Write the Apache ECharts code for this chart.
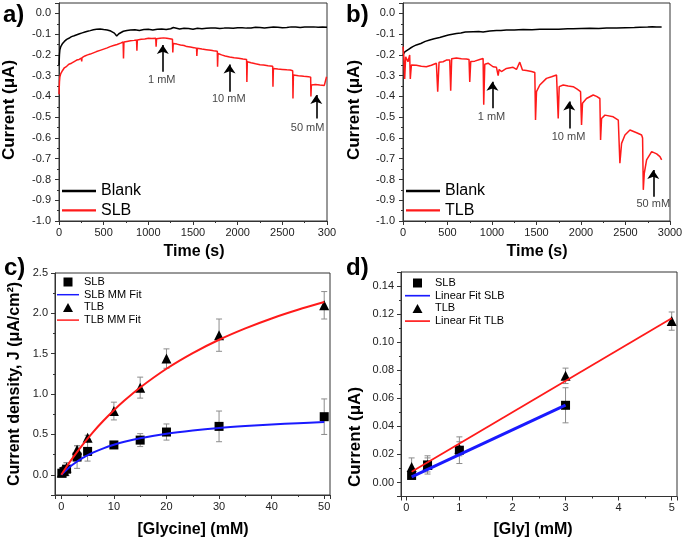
<!DOCTYPE html>
<html><head><meta charset="utf-8">
<script src="https://cdn.jsdelivr.net/npm/echarts@6/dist/echarts.min.js"></script>
<style>html,body{margin:0;padding:0;background:#fff}#c{width:685px;height:542px}</style>
</head><body><div id="c"></div>
<script>
// ---------- Panel a: Blank vs SLB (time, current) ----------
const blankA = [[0,-0.25],[5,-0.2],[10,-0.175],[20,-0.16],[40,-0.145],[60,-0.135],[86,-0.125],[110,-0.12],[125,-0.116],[140,-0.112],[170,-0.108],[200,-0.103],[230,-0.098],[260,-0.094],[290,-0.09],[320,-0.086],[350,-0.083],[385,-0.079],[420,-0.077],[460,-0.075],[500,-0.078],[540,-0.08],[580,-0.085],[620,-0.095],[646,-0.109],[670,-0.098],[720,-0.086],[760,-0.082],[800,-0.08],[850,-0.079],[900,-0.082],[950,-0.078],[1000,-0.077],[1050,-0.08],[1100,-0.076],[1150,-0.075],[1200,-0.078],[1250,-0.074],[1280,-0.068],[1300,-0.074],[1350,-0.075],[1400,-0.072],[1450,-0.073],[1500,-0.076],[1550,-0.072],[1600,-0.074],[1650,-0.072],[1700,-0.071],[1750,-0.07],[1800,-0.073],[1850,-0.071],[1900,-0.07],[1950,-0.072],[2000,-0.069],[2050,-0.069],[2100,-0.071],[2150,-0.07],[2200,-0.067],[2250,-0.068],[2300,-0.07],[2350,-0.068],[2400,-0.066],[2450,-0.067],[2500,-0.069],[2550,-0.068],[2600,-0.065],[2650,-0.066],[2700,-0.068],[2750,-0.066],[2800,-0.065],[2850,-0.065],[2900,-0.067],[2950,-0.066],[3000,-0.067]];
const slbA = [[0,-0.39],[5,-0.33],[10,-0.305],[20,-0.29],[40,-0.275],[60,-0.262],[86,-0.255],[110,-0.245],[140,-0.24],[170,-0.232],[198,-0.225],[225,-0.222],[250,-0.215],[254,-0.232],[258,-0.213],[290,-0.205],[320,-0.2],[350,-0.196],[385,-0.19],[420,-0.184],[460,-0.178],[500,-0.172],[540,-0.166],[572,-0.16],[610,-0.155],[650,-0.15],[690,-0.143],[718,-0.138],[722,-0.217],[727,-0.138],[760,-0.135],[800,-0.132],[840,-0.13],[868,-0.128],[872,-0.18],[877,-0.128],[920,-0.125],[960,-0.123],[1000,-0.12],[1040,-0.121],[1083,-0.12],[1087,-0.16],[1092,-0.122],[1130,-0.12],[1170,-0.118],[1207,-0.12],[1240,-0.122],[1270,-0.125],[1274,-0.188],[1279,-0.145],[1320,-0.148],[1360,-0.152],[1400,-0.155],[1431,-0.16],[1470,-0.162],[1510,-0.165],[1540,-0.168],[1543,-0.205],[1548,-0.168],[1600,-0.172],[1650,-0.175],[1700,-0.178],[1730,-0.18],[1772,-0.182],[1775,-0.257],[1780,-0.193],[1820,-0.2],[1860,-0.205],[1910,-0.21],[1960,-0.214],[2010,-0.216],[2060,-0.22],[2100,-0.222],[2103,-0.33],[2108,-0.233],[2150,-0.238],[2200,-0.243],[2250,-0.247],[2290,-0.249],[2340,-0.252],[2392,-0.255],[2395,-0.353],[2400,-0.265],[2450,-0.268],[2500,-0.27],[2550,-0.272],[2589,-0.273],[2616,-0.276],[2619,-0.41],[2624,-0.297],[2680,-0.3],[2740,-0.303],[2794,-0.305],[2817,-0.307],[2820,-0.40],[2825,-0.345],[2870,-0.342],[2920,-0.345],[2970,-0.347],[2990,-0.345],[2995,-0.305]];
const arrowAx = [1162, 1909, 2880];
const arrowAtail = [-0.281, -0.378, -0.506];
const arrowAtip = [-0.152, -0.246, -0.393];
const arrowText = ['1 mM', '10 mM', '50 mM'];
const labelAx = [1150, 1900, 2783];
const labelAy = [-0.32, -0.41, -0.55];

// ---------- Panel b: Blank vs TLB ----------
const blankB = [[0,-0.2],[20,-0.185],[37,-0.177],[80,-0.168],[110,-0.16],[150,-0.152],[200,-0.145],[250,-0.135],[300,-0.128],[350,-0.122],[412,-0.116],[460,-0.11],[510,-0.104],[600,-0.097],[650,-0.095],[700,-0.09],[787,-0.088],[850,-0.087],[900,-0.09],[975,-0.085],[1050,-0.083],[1100,-0.082],[1162,-0.08],[1250,-0.08],[1350,-0.078],[1450,-0.079],[1537,-0.077],[1650,-0.076],[1750,-0.077],[1850,-0.074],[1912,-0.074],[2000,-0.073],[2100,-0.072],[2200,-0.073],[2287,-0.071],[2400,-0.07],[2500,-0.069],[2600,-0.068],[2662,-0.067],[2750,-0.066],[2800,-0.064],[2850,-0.066],[2906,-0.065]];
const tlbB = [[0,-0.16],[8,-0.2],[19,-0.316],[30,-0.209],[56,-0.233],[75,-0.2],[82,-0.316],[94,-0.249],[150,-0.25],[206,-0.255],[262,-0.257],[319,-0.25],[375,-0.24],[390,-0.377],[405,-0.235],[450,-0.233],[487,-0.225],[525,-0.225],[536,-0.372],[547,-0.218],[600,-0.215],[656,-0.218],[712,-0.22],[742,-0.222],[750,-0.33],[761,-0.232],[806,-0.23],[862,-0.222],[900,-0.217],[907,-0.44],[919,-0.245],[956,-0.24],[1012,-0.257],[1050,-0.26],[1069,-0.3],[1080,-0.27],[1106,-0.28],[1162,-0.265],[1237,-0.26],[1275,-0.27],[1312,-0.235],[1342,-0.273],[1387,-0.275],[1444,-0.28],[1481,-0.285],[1489,-0.514],[1500,-0.377],[1537,-0.345],[1612,-0.313],[1669,-0.305],[1725,-0.297],[1736,-0.3],[1744,-0.506],[1755,-0.353],[1800,-0.345],[1856,-0.35],[1912,-0.353],[1957,-0.365],[1995,-0.377],[2006,-0.538],[2017,-0.433],[2062,-0.41],[2137,-0.393],[2175,-0.4],[2212,-0.41],[2220,-0.61],[2231,-0.506],[2269,-0.49],[2362,-0.498],[2419,-0.514],[2437,-0.722],[2456,-0.626],[2494,-0.586],[2550,-0.562],[2625,-0.575],[2681,-0.586],[2692,-0.6],[2700,-0.85],[2711,-0.77],[2737,-0.706],[2794,-0.666],[2850,-0.677],[2887,-0.69],[2906,-0.706]];
const arrowBx = [1005, 1868, 2812];
const arrowBtail = [-0.457, -0.554, -0.883];
const arrowBtip = [-0.329, -0.425, -0.754];
const labelBx = [994, 1860, 2812];
const labelBy = [-0.498, -0.594, -0.918];

// ---------- Panel c: current density vs glycine ----------
const cX = [0.1, 0.5, 1, 3, 5, 10, 15, 20, 30, 50];
const cSLB = [0.02, 0.04, 0.07, 0.22, 0.29, 0.37, 0.43, 0.53, 0.60, 0.72];
const cSLBerr = [0.03, 0.05, 0.08, 0.14, 0.12, 0.02, 0.08, 0.10, 0.19, 0.22];
const cTLB = [0.03, 0.05, 0.09, 0.31, 0.46, 0.79, 1.08, 1.44, 1.73, 2.10];
const cTLBerr = [0.03, 0.05, 0.06, 0.05, 0.03, 0.11, 0.13, 0.12, 0.20, 0.17];
const fitX = [0, 1, 2, 4, 6, 8, 10, 12, 15, 20, 25, 30, 35, 40, 45, 50];
const slbFit = [0, 0.064, 0.118, 0.206, 0.274, 0.328, 0.372, 0.409, 0.453, 0.509, 0.549, 0.580, 0.604, 0.624, 0.640, 0.653];
const tlbFit = [0, 0.10, 0.194, 0.368, 0.526, 0.669, 0.80, 0.92, 1.082, 1.314, 1.508, 1.673, 1.814, 1.937, 2.044, 2.140];

// ---------- Panel d: current vs Gly ----------
const dSLBx = [0.1, 0.4, 1, 3];
const dSLB = [0.005, 0.0125, 0.023, 0.055];
const dSLBerr = [0.0015, 0.0065, 0.0095, 0.0125];
const dTLBx = [0.1, 0.4, 1, 3, 5];
const dTLB = [0.011, 0.0125, 0.024, 0.076, 0.115];
const dTLBerr = [0.0065, 0.005, 0.005, 0.0055, 0.0065];
const slbLinX = [0.1, 3];
const slbLinY = [0.004, 0.0551];
const tlbLinX = [0.1, 5];
const tlbLinY = [0.0076, 0.117];

// ---------- build ----------
const FONT = '"Liberation Sans", Arial, sans-serif';
const AX = '#333';
const RED = '#ff1a1a', BLUE = '#1a1aff';
const LINE_ICON = 'path://M0,0h60v4h-60z';
const SQ_ICON = 'path://M0,0h10v10h-10z';
const TRI_ICON = 'path://M5,0L10,9L0,9z';
const zip = (xs, ys) => xs.map((x, i) => [x, ys[i]]);
const errData = (xs, ys, es) => xs.map((x, i) => [x, ys[i] - es[i], ys[i] + es[i]]);

function lbl(extra) {
  return Object.assign({ fontSize: 11, color: '#222', fontFamily: FONT }, extra);
}
function axisBase(extra) {
  return Object.assign({
    type: 'value', scale: false,
    axisLine: { show: true, onZero: false, lineStyle: { color: AX, width: 1 } },
    axisTick: { show: true, inside: false, length: 4, lineStyle: { color: AX } },
    minorTick: { show: true, splitNumber: 2, length: 2, lineStyle: { color: AX } },
    splitLine: { show: false },
    axisLabel: lbl({})
  }, extra);
}
function rightAxis(gi, min, max, iv) {
  return {
    type: 'value', gridIndex: gi, position: 'right', min: min, max: max, interval: iv,
    axisLine: { show: false }, axisLabel: { show: false }, splitLine: { show: false },
    axisTick: { show: true, inside: true, length: 4, lineStyle: { color: AX } }
  };
}

function errRender(params, api) {
  const x = api.value(0), lo = api.value(1), hi = api.value(2);
  const p1 = api.coord([x, hi]), p2 = api.coord([x, lo]);
  const w = 3, st = { stroke: '#8c8c8c', lineWidth: 1 };
  return { type: 'group', children: [
    { type: 'line', shape: { x1: p1[0], y1: p1[1], x2: p2[0], y2: p2[1] }, style: st },
    { type: 'line', shape: { x1: p1[0] - w, y1: p1[1], x2: p1[0] + w, y2: p1[1] }, style: st },
    { type: 'line', shape: { x1: p2[0] - w, y1: p2[1], x2: p2[0] + w, y2: p2[1] }, style: st }
  ]};
}

function arrows(xs, tails, tips) {
  return {
    silent: true, animation: false, symbol: ['none', 'arrow'], symbolSize: 9,
    label: { show: false },
    lineStyle: { color: '#000', width: 1.6, type: 'solid' },
    emphasis: { disabled: true },
    data: xs.map((x, i) => [{ coord: [x, tails[i]] }, { coord: [x, tips[i]] }])
  };
}
function labelSeries(xi, yi, xs, ys) {
  return {
    type: 'scatter', xAxisIndex: xi, yAxisIndex: yi, symbolSize: 1, silent: true,
    itemStyle: { color: 'rgba(0,0,0,0)' },
    label: { show: true, position: 'inside', fontSize: 11, color: '#111', fontFamily: FONT,
      formatter: p => p.data[2] },
    data: xs.map((x, i) => [x, ys[i], arrowText[i]])
  };
}

const legendFmt = n => n.replace(/^[a-d]_/, '');
function legend(left, top, items, fs, lh, iw, ih, gap) {
  return {
    orient: 'vertical', left: left, top: top, padding: 0, itemGap: gap,
    itemWidth: iw, itemHeight: ih, formatter: legendFmt, selectedMode: false,
    symbolKeepAspect: true,
    itemStyle: { opacity: 1 },
    textStyle: { fontSize: fs, lineHeight: lh, color: '#000', fontFamily: FONT },
    data: items.map(it => ({ name: it[0], icon: it[1] }))
  };
}

const grids = [
  { left: 59, top: 3, width: 268, height: 218 },
  { left: 403, top: 3, width: 267, height: 218 },
  { left: 55, top: 273, width: 275, height: 222 },
  { left: 401, top: 272, width: 276, height: 224.5 }
].map(g => Object.assign(g, { show: true, borderColor: AX, borderWidth: 1, backgroundColor: 'transparent', containLabel: false, outerBoundsMode: 'none' }));

const option = {
  animation: false,
  backgroundColor: '#fff',
  textStyle: { fontFamily: FONT },
  grid: grids,
  xAxis: [
    axisBase({ gridIndex: 0, min: 0, max: 3000, interval: 500,
      axisLabel: lbl({ margin: 6, formatter: v => v === 3000 ? '300' : String(v) }) }),
    axisBase({ gridIndex: 1, min: 0, max: 3000, interval: 500,
      axisLabel: lbl({ margin: 6, formatter: v => String(v) }) }),
    axisBase({ gridIndex: 2, min: -1.2, max: 51.1, minInterval: 10, maxInterval: 10,
      axisLabel: lbl({ margin: 6, showMinLabel: false, showMaxLabel: false, formatter: v => String(v) }) }),
    axisBase({ gridIndex: 3, min: -0.1, max: 5.1, minInterval: 1, maxInterval: 1,
      axisLabel: lbl({ margin: 6, showMinLabel: false, showMaxLabel: false, formatter: v => String(v) }) })
  ],
  yAxis: [
    axisBase({ gridIndex: 0, min: -1.0, max: 0.05, interval: 0.1,
      axisLabel: lbl({ margin: 8, showMaxLabel: false, formatter: v => v.toFixed(1) }) }),
    axisBase({ gridIndex: 1, min: -1.0, max: 0.05, interval: 0.1,
      axisLabel: lbl({ margin: 8, showMaxLabel: false, formatter: v => v.toFixed(1) }) }),
    axisBase({ gridIndex: 2, min: -0.25, max: 2.5, minInterval: 0.5, maxInterval: 0.5,
      axisLabel: lbl({ margin: 7, showMinLabel: false, formatter: v => v.toFixed(1) }) }),
    axisBase({ gridIndex: 3, min: -0.01, max: 0.15, minInterval: 0.02, maxInterval: 0.02,
      axisLabel: lbl({ margin: 7, showMinLabel: false, showMaxLabel: false, formatter: v => v.toFixed(2) }) }),
    rightAxis(0, -1.0, 0.05, 0.1),
    rightAxis(1, -1.0, 0.05, 0.1)
  ],
  legend: [
    legend(62, 183, [['a_Blank', LINE_ICON], ['a_SLB', LINE_ICON]], 16, 16, 34, 12, 3.3),
    legend(406, 183, [['b_Blank', LINE_ICON], ['b_TLB', LINE_ICON]], 16, 16, 34, 12, 3.3),
    legend(57, 276, [['c_SLB', SQ_ICON], ['c_SLB MM Fit', LINE_ICON], ['c_TLB', TRI_ICON], ['c_TLB MM Fit', LINE_ICON]], 11, 12, 22, 9, 0.7),
    legend(405, 277, [['d_SLB', SQ_ICON], ['d_Linear Fit SLB', LINE_ICON], ['d_TLB', TRI_ICON], ['d_Linear Fit TLB', LINE_ICON]], 11, 12, 25, 9, 0.7)
  ],
  series: [
    { name: 'a_Blank', type: 'line', xAxisIndex: 0, yAxisIndex: 0, data: blankA, symbol: 'none', lineStyle: { color: '#000', width: 1.5 }, itemStyle: { color: '#000' } },
    { name: 'a_SLB', type: 'line', xAxisIndex: 0, yAxisIndex: 0, data: slbA, symbol: 'none', lineStyle: { color: RED, width: 1.5 }, itemStyle: { color: RED },
      markLine: arrows(arrowAx, arrowAtail, arrowAtip) },
    labelSeries(0, 0, labelAx, labelAy),
    { name: 'b_Blank', type: 'line', xAxisIndex: 1, yAxisIndex: 1, data: blankB, symbol: 'none', lineStyle: { color: '#000', width: 1.5 }, itemStyle: { color: '#000' } },
    { name: 'b_TLB', type: 'line', xAxisIndex: 1, yAxisIndex: 1, data: tlbB, symbol: 'none', lineStyle: { color: RED, width: 1.5 }, itemStyle: { color: RED },
      markLine: arrows(arrowBx, arrowBtail, arrowBtip) },
    labelSeries(1, 1, labelBx, labelBy),

    { type: 'custom', xAxisIndex: 2, yAxisIndex: 2, renderItem: errRender, encode: { x: 0, y: [1, 2] }, data: errData(cX, cSLB, cSLBerr), silent: true },
    { type: 'custom', xAxisIndex: 2, yAxisIndex: 2, renderItem: errRender, encode: { x: 0, y: [1, 2] }, data: errData(cX, cTLB, cTLBerr), silent: true },
    { name: 'c_SLB', type: 'scatter', xAxisIndex: 2, yAxisIndex: 2, data: zip(cX, cSLB), symbol: 'rect', symbolSize: 9, itemStyle: { color: '#000', opacity: 1 } },
    { name: 'c_SLB MM Fit', type: 'line', xAxisIndex: 2, yAxisIndex: 2, data: zip(fitX, slbFit), symbol: 'none', smooth: 0.3, lineStyle: { color: BLUE, width: 2 }, itemStyle: { color: BLUE } },
    { name: 'c_TLB', type: 'scatter', xAxisIndex: 2, yAxisIndex: 2, data: zip(cX, cTLB), symbol: 'triangle', symbolSize: 10, itemStyle: { color: '#000', opacity: 1 } },
    { name: 'c_TLB MM Fit', type: 'line', xAxisIndex: 2, yAxisIndex: 2, data: zip(fitX, tlbFit), symbol: 'none', smooth: 0.3, lineStyle: { color: RED, width: 2 }, itemStyle: { color: RED } },

    { type: 'custom', xAxisIndex: 3, yAxisIndex: 3, renderItem: errRender, encode: { x: 0, y: [1, 2] }, data: errData(dSLBx, dSLB, dSLBerr), silent: true },
    { type: 'custom', xAxisIndex: 3, yAxisIndex: 3, renderItem: errRender, encode: { x: 0, y: [1, 2] }, data: errData(dTLBx, dTLB, dTLBerr), silent: true },
    { name: 'd_TLB', type: 'scatter', xAxisIndex: 3, yAxisIndex: 3, data: zip(dTLBx, dTLB), symbol: 'triangle', symbolSize: 10, itemStyle: { color: '#000', opacity: 1 } },
    { name: 'd_SLB', type: 'scatter', xAxisIndex: 3, yAxisIndex: 3, data: zip(dSLBx, dSLB), symbol: 'rect', symbolSize: 9, itemStyle: { color: '#000', opacity: 1 } },
    { name: 'd_Linear Fit SLB', type: 'line', xAxisIndex: 3, yAxisIndex: 3, data: zip(slbLinX, slbLinY), symbol: 'none', lineStyle: { color: BLUE, width: 3 }, itemStyle: { color: BLUE } },
    { name: 'd_Linear Fit TLB', type: 'line', xAxisIndex: 3, yAxisIndex: 3, data: zip(tlbLinX, tlbLinY), symbol: 'none', lineStyle: { color: RED, width: 1.8 }, itemStyle: { color: RED } }
  ],
  graphic: [
    { type: 'text', left: 3, top: 3, style: { text: 'a)', font: 'bold 24px ' + FONT, fill: '#000' } },
    { type: 'text', left: 346, top: 3, style: { text: 'b)', font: 'bold 24px ' + FONT, fill: '#000' } },
    { type: 'text', left: 4, top: 256, style: { text: 'c)', font: 'bold 24px ' + FONT, fill: '#000' } },
    { type: 'text', left: 346, top: 256, style: { text: 'd)', font: 'bold 24px ' + FONT, fill: '#000' } },
    { type: 'text', x: 9, y: 110, rotation: Math.PI / 2, style: { text: 'Current (μA)', font: 'bold 17px ' + FONT, fill: '#000', align: 'center', verticalAlign: 'middle' } },
    { type: 'text', x: 354, y: 110, rotation: Math.PI / 2, style: { text: 'Current (μA)', font: 'bold 17px ' + FONT, fill: '#000', align: 'center', verticalAlign: 'middle' } },
    { type: 'text', x: 15, y: 384, rotation: Math.PI / 2, style: { text: 'Current density, J (μA/cm²)', font: 'bold 16px ' + FONT, fill: '#000', align: 'center', verticalAlign: 'middle' } },
    { type: 'text', x: 355, y: 437, rotation: Math.PI / 2, style: { text: 'Current (μA)', font: 'bold 17px ' + FONT, fill: '#000', align: 'center', verticalAlign: 'middle' } },
    { type: 'text', x: 194, y: 252, style: { text: 'Time (s)', font: 'bold 16px ' + FONT, fill: '#000', align: 'center', verticalAlign: 'middle' } },
    { type: 'text', x: 537, y: 252, style: { text: 'Time (s)', font: 'bold 16px ' + FONT, fill: '#000', align: 'center', verticalAlign: 'middle' } },
    { type: 'text', x: 193, y: 530, style: { text: '[Glycine] (mM)', font: 'bold 16px ' + FONT, fill: '#000', align: 'center', verticalAlign: 'middle' } },
    { type: 'text', x: 533, y: 530, style: { text: '[Gly] (mM)', font: 'bold 16px ' + FONT, fill: '#000', align: 'center', verticalAlign: 'middle' } }
  ]
};

const chart = echarts.init(document.getElementById('c'), null, { renderer: 'canvas', width: 685, height: 542 });
chart.setOption(option);
</script>
</body></html>
